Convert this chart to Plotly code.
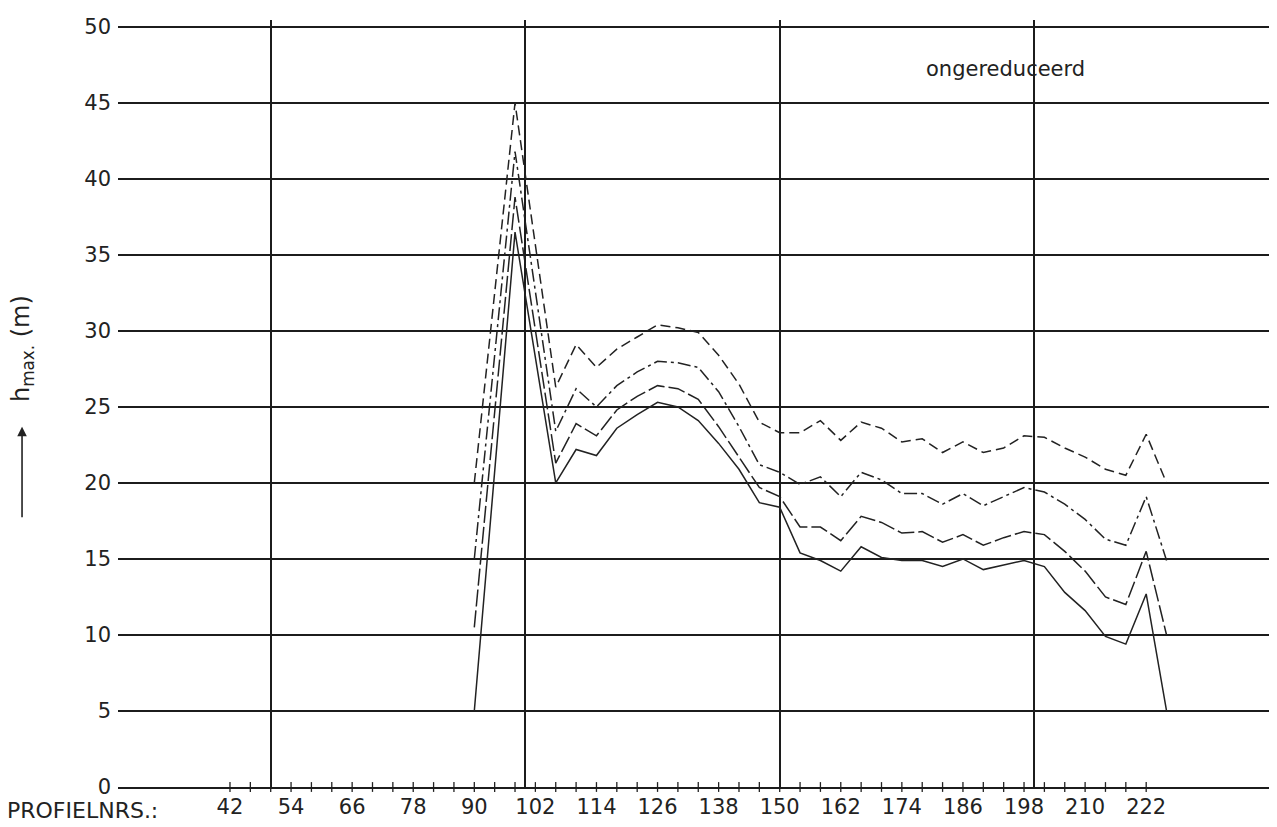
import plotly.graph_objects as go

# ---- data ----
profiles = [90, 98, 106, 110, 114, 118, 122, 126, 130, 134, 138, 142, 146, 150,
            154, 158, 162, 166, 170, 174, 178, 182, 186, 190, 194, 198, 202, 206,
            210, 214, 218, 222, 226]

series_longdash = [20.0, 45.0, 26.3, 29.1, 27.6, 28.8, 29.6, 30.4, 30.2, 29.9, 28.4, 26.5, 24.0, 23.3,
                   23.3, 24.1, 22.8, 24.0, 23.6, 22.7, 22.9, 22.0, 22.7, 22.0, 22.3, 23.1, 23.0, 22.3,
                   21.7, 20.9, 20.5, 23.2, 20.0]
series_dashdot = [15.0, 41.8, 23.4, 26.2, 25.0, 26.4, 27.3, 28.0, 27.9, 27.6, 26.0, 23.7, 21.2, 20.7,
                  19.9, 20.4, 19.1, 20.7, 20.2, 19.3, 19.3, 18.6, 19.3, 18.5, 19.1, 19.7, 19.4, 18.6,
                  17.6, 16.3, 15.9, 19.1, 14.9]
series_dash = [10.5, 38.8, 21.3, 23.9, 23.1, 24.8, 25.7, 26.4, 26.2, 25.5, 23.7, 21.7, 19.7, 19.1,
               17.1, 17.1, 16.2, 17.8, 17.4, 16.7, 16.8, 16.1, 16.6, 15.9, 16.4, 16.8, 16.6, 15.5,
               14.2, 12.5, 12.0, 15.5, 10.0]
series_solid = [5.0, 36.5, 20.0, 22.2, 21.8, 23.6, 24.5, 25.3, 25.0, 24.1, 22.6, 20.9, 18.7, 18.4,
                15.4, 14.9, 14.2, 15.8, 15.1, 14.9, 14.9, 14.5, 15.0, 14.3, 14.6, 14.9, 14.5, 12.8,
                11.6, 9.9, 9.4, 12.7, 5.0]

x_tick_labels = [42, 54, 66, 78, 90, 102, 114, 126, 138, 150, 162, 174, 186, 198, 210, 222]
x_small_ticks = list(range(42, 223, 4))
y_ticks = [0, 5, 10, 15, 20, 25, 30, 35, 40, 45, 50]

FONT = "DejaVu Sans"
INK = "#222222"
GRID = "#1c1c1c"

fig = go.Figure()

styles = [
    (series_longdash, "10px,5px"),
    (series_dashdot, "13px,4px,3px,4px"),
    (series_dash, "17px,4px"),
    (series_solid, "solid"),
]
for vals, dash in styles:
    fig.add_trace(go.Scatter(
        x=profiles, y=vals, mode="lines",
        line=dict(color=INK, width=1.5, dash=dash),
        hoverinfo="skip", showlegend=False,
    ))

# small crossing tick marks on the baseline
fig.add_trace(go.Scatter(
    x=x_small_ticks, y=[0] * len(x_small_ticks), mode="markers",
    marker=dict(symbol="line-ns-open", size=7, color=INK, line=dict(color=INK, width=1.3)),
    hoverinfo="skip", showlegend=False, cliponaxis=False,
))

# the page body has an 8px margin, so the figure is sized/margined to compensate
fig.update_layout(
    width=1269, height=819,
    margin=dict(l=110, r=0, t=12, b=40),
    paper_bgcolor="white", plot_bgcolor="white",
    showlegend=False,
    font=dict(family=FONT, color=INK),
    xaxis=dict(
        range=[20, 247.7],
        tickmode="array", tickvals=x_tick_labels,
        ticktext=[str(v) for v in x_tick_labels],
        showgrid=False, zeroline=False,
        ticks="", ticklabelstandoff=0,
        tickfont=dict(size=21, family=FONT, color=INK),
        showline=True, linecolor=GRID, linewidth=1.8,
        minor=dict(tick0=0, dtick=50, showgrid=True, gridcolor=GRID, gridwidth=1.6, ticks=""),
    ),
    yaxis=dict(
        range=[0, 50.45],
        tickmode="array", tickvals=y_ticks,
        showgrid=True, gridcolor=GRID, gridwidth=1.6,
        zeroline=False, ticks="", ticklabelstandoff=6,
        tickfont=dict(size=21, family=FONT, color=INK),
    ),
)

annotations = [
    dict(text="ongereduceerd", x=194.3, y=47.2, xref="x", yref="y",
         showarrow=False, font=dict(size=21, family=FONT, color=INK)),
    dict(text="PROFIELNRS.:", x=0.0365, y=-0.030, xref="paper", yref="paper",
         xanchor="right", yanchor="middle", showarrow=False,
         font=dict(size=22, family=FONT, color=INK)),
    dict(text="h<sub>max.</sub> (m)", x=-0.083, y=0.572, xref="paper", yref="paper",
         textangle=-90, showarrow=False, xanchor="center", yanchor="middle",
         font=dict(size=24, family=FONT, color=INK)),
    dict(text="", x=-0.0828, y=0.4697, xref="paper", yref="paper",
         showarrow=True, ax=0, ay=92, arrowhead=2, arrowsize=1.2, arrowwidth=1.6,
         arrowcolor=INK),
]
fig.update_layout(annotations=annotations)

fig.write_html("out.html")
